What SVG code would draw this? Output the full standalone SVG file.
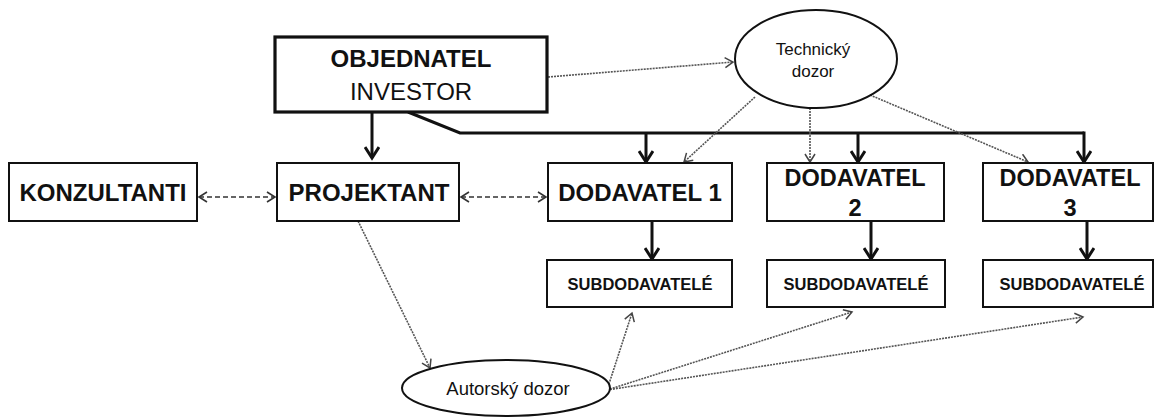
<svg xmlns="http://www.w3.org/2000/svg" width="1157" height="417" viewBox="0 0 1157 417">
<style>
.box{fill:#fff;stroke:#111;stroke-width:2}
.big{fill:#fff;stroke:#111;stroke-width:3.2}
.ell{fill:#fff;stroke:#111;stroke-width:2}
.b{font-family:"Liberation Sans",Arial,sans-serif;font-weight:bold;fill:#111;text-anchor:middle}
.r{font-family:"Liberation Sans",Arial,sans-serif;fill:#111;text-anchor:middle}
.thick{fill:none;stroke:#111;stroke-width:3}
.dot{fill:none;stroke:#555;stroke-width:1.6;stroke-dasharray:2 1}
.dash{fill:none;stroke:#333;stroke-width:1.6;stroke-dasharray:5 3}
</style>
<defs>
<marker id="ah" markerUnits="userSpaceOnUse" markerWidth="16" markerHeight="16" refX="13" refY="8" orient="auto"><path d="M2,1 L13,8 L2,15" fill="none" stroke="#111" stroke-width="3"/></marker>
<marker id="ad" markerUnits="userSpaceOnUse" markerWidth="12" markerHeight="12" refX="9" refY="6" orient="auto"><path d="M1,1 L9,6 L1,11" fill="none" stroke="#444" stroke-width="1.5"/></marker>
<marker id="as" markerUnits="userSpaceOnUse" markerWidth="12" markerHeight="12" refX="9" refY="6" orient="auto-start-reverse"><path d="M1,1 L9,6 L1,11" fill="none" stroke="#333" stroke-width="1.6"/></marker>
</defs>
<g id="connectors">
<line class="thick" x1="372" y1="112" x2="372" y2="158" marker-end="url(#ah)"/>
<polyline class="thick" points="408,112 460,133 1084,133"/>
<line class="thick" x1="646" y1="133" x2="646" y2="162" marker-end="url(#ah)"/>
<line class="thick" x1="858" y1="133" x2="858" y2="162" marker-end="url(#ah)"/>
<line class="thick" x1="1084" y1="131.5" x2="1084" y2="162" marker-end="url(#ah)"/>
<line class="thick" x1="652" y1="221" x2="652" y2="259" marker-end="url(#ah)"/>
<line class="thick" x1="871" y1="221" x2="871" y2="259" marker-end="url(#ah)"/>
<line class="thick" x1="1087" y1="221" x2="1087" y2="259" marker-end="url(#ah)"/>
<line class="dash" x1="199" y1="197" x2="275" y2="197" marker-start="url(#as)" marker-end="url(#as)"/>
<line class="dash" x1="461" y1="197" x2="546" y2="197" marker-start="url(#as)" marker-end="url(#as)"/>
<line class="dot" x1="548" y1="77" x2="733" y2="62" marker-end="url(#ad)"/>
<line class="dot" x1="755" y1="97" x2="684" y2="162" marker-end="url(#ad)"/>
<line class="dot" x1="810" y1="108" x2="810" y2="162" marker-end="url(#ad)"/>
<line class="dot" x1="870" y1="95" x2="1028" y2="162" marker-end="url(#ad)"/>
<line class="dot" x1="358" y1="221" x2="430" y2="368" marker-end="url(#ad)"/>
<line class="dot" x1="607" y1="390" x2="632" y2="313" marker-end="url(#ad)"/>
<line class="dot" x1="607" y1="390" x2="852" y2="312" marker-end="url(#ad)"/>
<line class="dot" x1="607" y1="390" x2="1083" y2="317" marker-end="url(#ad)"/>
</g>
<g id="objednatel">
<rect class="big" x="275" y="37" width="272" height="75"/>
<text class="b" x="411" y="67" font-size="24">OBJEDNATEL</text>
<text class="r" x="411" y="100" font-size="24">INVESTOR</text>
</g>
<g id="technicky-dozor">
<ellipse class="ell" cx="816" cy="59" rx="81" ry="49"/>
<text class="r" x="813" y="55" font-size="17">Technický</text>
<text class="r" x="813" y="77" font-size="17">dozor</text>
</g>
<g id="konzultanti">
<rect class="box" x="9" y="163" width="188" height="58"/>
<text class="b" x="103" y="201" font-size="24">KONZULTANTI</text>
</g>
<g id="projektant">
<rect class="box" x="277" y="163" width="182" height="58"/>
<text class="b" x="369" y="201" font-size="24">PROJEKTANT</text>
</g>
<g id="dodavatel1">
<rect class="box" x="548" y="163" width="184" height="58"/>
<text class="b" x="640" y="201" font-size="24">DODAVATEL 1</text>
</g>
<g id="dodavatel2">
<rect class="box" x="767" y="163" width="177" height="58"/>
<text class="b" x="855" y="186" font-size="23.5">DODAVATEL</text>
<text class="b" x="855" y="216" font-size="23.5">2</text>
</g>
<g id="dodavatel3">
<rect class="box" x="983" y="163" width="170" height="58"/>
<text class="b" x="1070" y="186" font-size="23.5">DODAVATEL</text>
<text class="b" x="1070" y="216" font-size="23.5">3</text>
</g>
<g id="subdodavatele1">
<rect class="box" x="547" y="260" width="185" height="47"/>
<text class="b" x="640" y="290" font-size="16.5">SUBDODAVATELÉ</text>
</g>
<g id="subdodavatele2">
<rect class="box" x="767" y="260" width="178" height="47"/>
<text class="b" x="856" y="290" font-size="16.5">SUBDODAVATELÉ</text>
</g>
<g id="subdodavatele3">
<rect class="box" x="983" y="260" width="170" height="47"/>
<text class="b" x="1072" y="290" font-size="16.5">SUBDODAVATELÉ</text>
</g>
<g id="autorsky-dozor">
<ellipse class="ell" cx="506" cy="388" rx="104" ry="28"/>
<text class="r" x="508" y="395" font-size="18.5">Autorský dozor</text>
</g>
</svg>
